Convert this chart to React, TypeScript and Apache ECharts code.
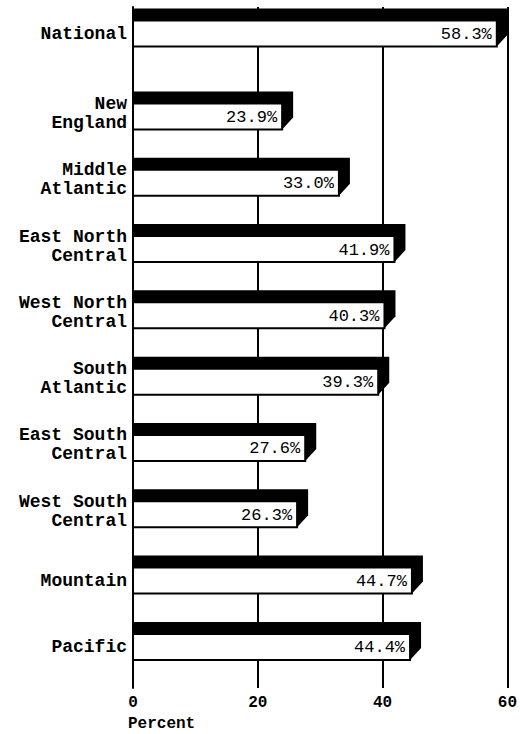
import React, { useEffect, useRef } from "react";
import * as echarts from "echarts";

const categories = [
  "National",
  "New\nEngland",
  "Middle\nAtlantic",
  "East North\nCentral",
  "West North\nCentral",
  "South\nAtlantic",
  "East South\nCentral",
  "West South\nCentral",
  "Mountain",
  "Pacific",
];
const values = [58.3, 23.9, 33.0, 41.9, 40.3, 39.3, 27.6, 26.3, 44.7, 44.4];
const xTicks = [0, 20, 40, 60];
const axisTitle = "Percent";

const MONO = "'Liberation Mono', 'DejaVu Sans Mono', monospace";

export default function App() {
  const ref = useRef<HTMLDivElement>(null);
  useEffect(() => {
    if (!ref.current) return;
    const chart = echarts.init(ref.current, null, { renderer: "svg" });
    // National sits apart from the regions, with an extra quarter-slot gap
    const data = values.map((v, i) => [v, i === 0 ? 0 : i + 0.25, i]);
    const H = 26;
    const DX = 11;
    const DY = 12;
    chart.setOption({
      animation: false,
      backgroundColor: "#fff",
      grid: { left: 133, right: 10, top: 7, bottom: 46 },
      xAxis: {
        type: "value",
        min: xTicks[0],
        max: xTicks[xTicks.length - 1],
        interval: xTicks[1] - xTicks[0],
        axisLine: { show: true, lineStyle: { color: "#000", width: 2 } },
        axisTick: { show: false },
        splitLine: { show: true, lineStyle: { color: "#000", width: 2 } },
        axisLabel: {
          color: "#000",
          fontFamily: MONO,
          fontWeight: "bold",
          fontSize: 16,
          lineHeight: 16,
          margin: 7,
        },
      },
      yAxis: {
        type: "value",
        inverse: true,
        min: -0.4,
        max: 9.87,
        axisLine: { show: true, onZero: false, lineStyle: { color: "#000", width: 2 } },
        axisTick: { show: false },
        axisLabel: { show: false },
        splitLine: { show: false },
      },
      graphic: [
        {
          type: "text",
          left: 128,
          top: 716,
          style: {
            text: axisTitle,
            fill: "#000",
            fontFamily: MONO,
            fontWeight: "bold",
            fontSize: 16,
          },
        },
      ],
      series: [
        {
          type: "custom",
          clip: false,
          encode: { x: 0, y: 1 },
          data,
          renderItem: (params: any, api: any) => {
            const v = api.value(0);
            const p = api.value(1);
            const i = api.value(2);
            const [x1, yc] = api.coord([v, p]);
            const [x0] = api.coord([0, p]);
            const y0 = yc - H / 2;
            const y1 = yc + H / 2;
            const two = categories[i].indexOf("\n") >= 0;
            return {
              type: "group",
              children: [
                {
                  type: "polygon",
                  shape: {
                    points: [
                      [x0, y0 - DY],
                      [x1 + DX, y0 - DY],
                      [x1 + DX, y1 - DY],
                      [x1, y1],
                      [x0, y1],
                    ],
                  },
                  style: { fill: "#000" },
                },
                {
                  type: "rect",
                  shape: { x: x0, y: y0, width: x1 - x0, height: H },
                  style: { fill: "#fff", stroke: "#000", lineWidth: 2 },
                },
                {
                  type: "text",
                  x: x1 - 5,
                  y: yc + 1,
                  style: {
                    text: values[i].toFixed(1) + "%",
                    align: "right",
                    verticalAlign: "middle",
                    fill: "#000",
                    fontFamily: MONO,
                    fontSize: 17,
                  },
                },
                {
                  type: "text",
                  x: x0 - 6,
                  y: two ? yc - 3 : yc,
                  style: {
                    text: categories[i],
                    align: "right",
                    verticalAlign: "middle",
                    fill: "#000",
                    fontFamily: MONO,
                    fontWeight: "bold",
                    fontSize: 18,
                    lineHeight: 19,
                  },
                },
              ],
            };
          },
        },
      ],
    });
    return () => chart.dispose();
  }, []);
  return (
    <div
      ref={ref}
      style={{ position: "fixed", left: 0, top: 0, width: 520, height: 734, background: "#fff" }}
    />
  );
}
